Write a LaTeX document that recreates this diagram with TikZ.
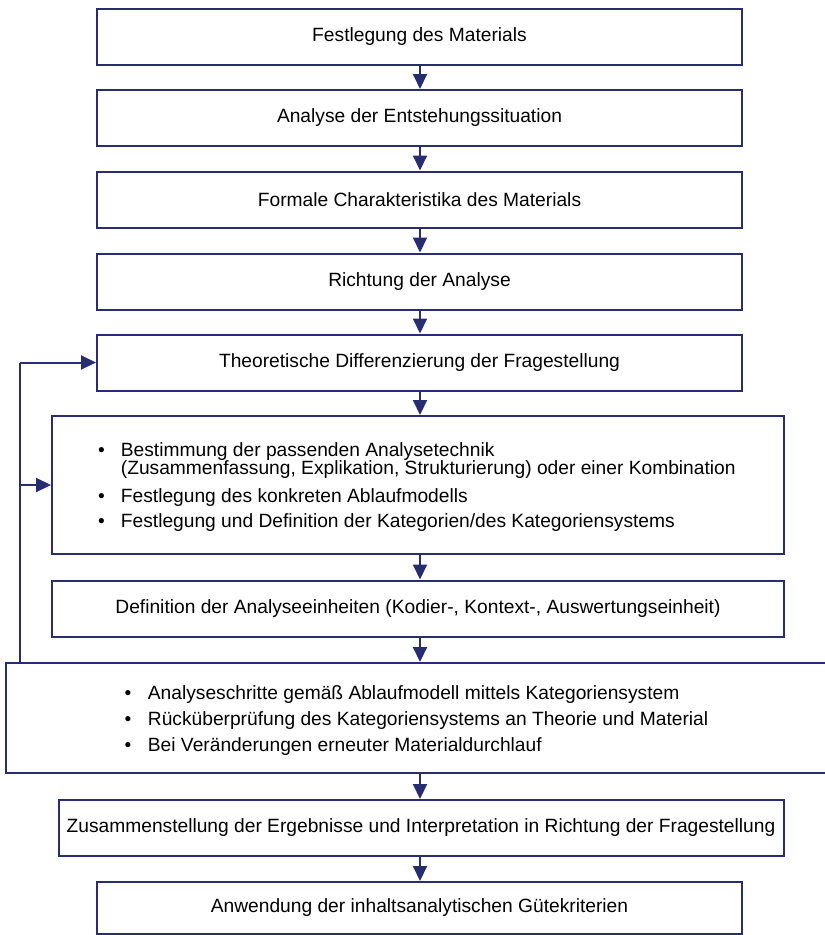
\documentclass[tikz,border=0pt]{standalone}
\usepackage{fontspec}
\setmainfont{Liberation Sans}
\usetikzlibrary{arrows.meta,calc}
\definecolor{navy}{RGB}{40,45,112}
\begin{document}
\begin{tikzpicture}[x=1pt,y=-1pt,
  box/.style={draw=navy,line width=2pt,fill=white,inner sep=0pt},
  lbl/.style={font=\fontsize{19.2}{22}\selectfont,text=black,inner sep=0pt},
  arr/.style={draw=navy,line width=2pt,-{Triangle[length=15pt,width=14pt]}}]
\useasboundingbox (0,0) rectangle (825,935);
\coordinate (ax) at (420,0);
\node[box,minimum width=645pt,minimum height=56pt] (b1) at (419.5,37) {};
\node[lbl] (t1) at (b1) {Festlegung des Materials};
\node[box,minimum width=645pt,minimum height=56pt] (b2) at (419.5,118) {};
\node[lbl] (t2) at (b2) {Analyse der Entstehungssituation};
\node[box,minimum width=645pt,minimum height=56pt] (b3) at (419.5,199.5) {};
\node[lbl] (t3) at (b3) {Formale Charakteristika des Materials};
\node[box,minimum width=645pt,minimum height=56pt] (b4) at (419.5,281.5) {};
\node[lbl] (t4) at (b4) {Richtung der Analyse};
\node[box,minimum width=645pt,minimum height=56pt] (b5) at (419.5,362.5) {};
\node[lbl] (t5) at (b5) {Theoretische Differenzierung der Fragestellung};
\node[box,minimum width=732pt,minimum height=138pt] (b6) at (418,485) {};
\node[lbl,anchor=base west,align=left] (t6) at (98,456) {%
\begin{tabular}[t]{@{}l@{\hspace{16pt}}l@{}}
\textbullet & Bestimmung der passenden Analysetechnik\\[-3.7pt]
 & (Zusammenfassung, Explikation, Strukturierung) oder einer Kombination\\[6pt]
\textbullet & Festlegung des konkreten Ablaufmodells\\[3pt]
\textbullet & Festlegung und Definition der Kategorien/des Kategoriensystems
\end{tabular}};
\node[box,minimum width=732pt,minimum height=56pt] (b7) at (418,608.5) {};
\node[lbl] (t7) at (b7) {Definition der Analyseeinheiten (Kodier-, Kontext-, Auswertungseinheit)};
\node[box,minimum width=822pt,minimum height=110pt] (b8) at (417,718) {};
\node[lbl,anchor=base west,align=left] (t8) at (124.5,699) {%
\begin{tabular}[t]{@{}l@{\hspace{16.5pt}}l@{}}
\textbullet & Analyseschritte gemäß Ablaufmodell mittels Kategoriensystem\\[4pt]
\textbullet & Rücküberprüfung des Kategoriensystems an Theorie und Material\\[4pt]
\textbullet & Bei Veränderungen erneuter Materialdurchlauf
\end{tabular}};
\node[box,minimum width=725pt,minimum height=56pt] (b9) at (421,828) {};
\node[lbl] (t9) at (b9) {Zusammenstellung der Ergebnisse und Interpretation in Richtung der Fragestellung};
\node[box,minimum width=645pt,minimum height=52pt] (b10) at (419.5,908) {};
\node[lbl] (t10) at (b10) {Anwendung der inhaltsanalytischen Gütekriterien};
\foreach \a/\b in {b1/b2,b2/b3,b3/b4,b4/b5,b5/b6,b6/b7,b7/b8,b8/b9,b9/b10}
  \draw[arr] (ax |- \a.south) -- (ax |- \b.north);
\coordinate (fb) at (19.5,0);
\coordinate (fj) at (19.5,485);
\draw[navy,line width=2pt] (fb |- b8.north) -- (fb |- b5.west);
\draw[arr] (fb |- b5.west) -- (b5.west);
\draw[arr] (fj) -- (b6.west);
\end{tikzpicture}
\end{document}
